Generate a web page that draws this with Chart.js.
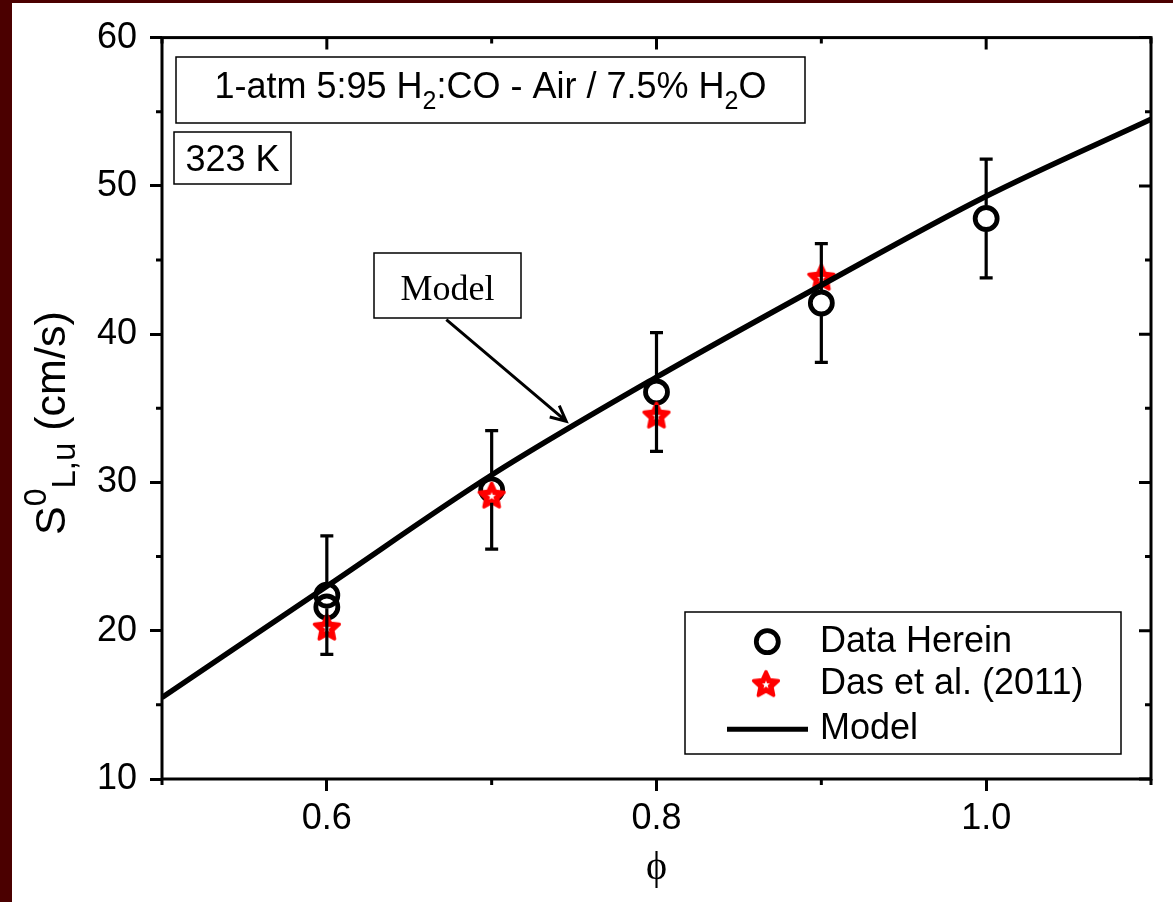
<html>
<head>
<script src="https://cdn.jsdelivr.net/npm/chart.js@4.4.0/dist/chart.umd.min.js"></script>
<style>
  body { margin: 0; background: #4b0000; }
  #wrap { position: absolute; left: 12px; top: 3px; width: 1161px; height: 899px; background: #fff; }
</style>
</head>
<body>
<div id="wrap"><canvas id="chart" width="1161" height="899"></canvas></div>
<script>
// data
const phiHerein   = [0.6, 0.6, 0.7, 0.8, 0.9, 1.0];
const speedHerein = [22.4, 21.6, 29.5, 36.1, 42.1, 47.8];
const errHerein   = [4, 0, 4, 4, 4, 4];

const phiDas   = [0.6, 0.7, 0.8, 0.9];
const speedDas = [20.2, 29.1, 34.5, 43.8];

const phiModel   = [0.5, 0.6, 0.7, 0.8, 0.9, 1.0, 1.1];
const speedModel = [15.5, 23.0, 30.5, 37.1, 43.3, 49.3, 54.5];

const xLabels = ['0.6', '0.8', '1.0'];
const yLabels = ['10', '20', '30', '40', '50', '60'];

const SANS = '"Liberation Sans", Arial, sans-serif';
const SERIF = '"Liberation Serif", "Times New Roman", serif';

function pts(xs, ys) { return xs.map((x, i) => ({x: x, y: ys[i]})); }

function starPath(g, cx, cy, R, r) {
  g.beginPath();
  for (let i = 0; i < 10; i++) {
    const rr = i % 2 ? r : R;
    const a = -Math.PI / 2 + i * Math.PI / 5;
    g.lineTo(cx + rr * Math.cos(a), cy + rr * Math.sin(a));
  }
  g.closePath();
}

// bold red star marker with a small white centre
function makeStar() {
  const c = document.createElement('canvas');
  c.width = 40; c.height = 40;
  const g = c.getContext('2d');
  starPath(g, 20, 20.5, 13, 6.2);
  g.fillStyle = '#ff0000';
  g.fill();
  g.lineJoin = 'round';
  g.lineWidth = 3.5;
  g.strokeStyle = '#ff0000';
  g.stroke();
  starPath(g, 20, 20.5, 4.2, 1.8);
  g.fillStyle = '#fff';
  g.fill();
  return c;
}
const starImg = makeStar();

function isMajorX(v) { return xLabels.includes(v.toFixed(1)); }
function isMajorY(v) { return yLabels.includes(String(Math.round(v))) && Math.abs(v - Math.round(v)) < 1e-6; }

// error bars of the circle series, leaving a gap at the symbol; drawn over the stars
const errorBars = {
  id: 'errorBars',
  afterDatasetDraw(chart, args) {
    if (args.index !== 2) return;
    const ctx = chart.ctx, xs = chart.scales.x, ys = chart.scales.y;
    const gap = 13;
    ctx.save();
    ctx.strokeStyle = '#000';
    ctx.lineWidth = 3.2;
    phiHerein.forEach((p, i) => {
      if (!errHerein[i]) return;
      const px = xs.getPixelForValue(p);
      const mid = ys.getPixelForValue(speedHerein[i]);
      const top = ys.getPixelForValue(speedHerein[i] + errHerein[i]);
      const bot = ys.getPixelForValue(speedHerein[i] - errHerein[i]);
      ctx.beginPath();
      ctx.moveTo(px, top); ctx.lineTo(px, mid - gap);
      ctx.moveTo(px, mid + gap); ctx.lineTo(px, bot);
      ctx.moveTo(px - 6.5, top); ctx.lineTo(px + 6.5, top);
      ctx.moveTo(px - 6.5, bot); ctx.lineTo(px + 6.5, bot);
      ctx.stroke();
    });
    ctx.restore();
  }
};

function drawRich(ctx, parts, x, y) {
  parts.forEach(p => {
    ctx.font = p.size + 'px ' + SANS;
    ctx.fillText(p.t, x, y + (p.dy || 0));
    x += ctx.measureText(p.t).width;
  });
  return x;
}
function richWidth(ctx, parts) {
  let w = 0;
  parts.forEach(p => { ctx.font = p.size + 'px ' + SANS; w += ctx.measureText(p.t).width; });
  return w;
}

const decor = {
  id: 'decor',
  afterDraw(chart) {
    const ctx = chart.ctx, a = chart.chartArea;
    const xs = chart.scales.x, ys = chart.scales.y;
    ctx.save();
    ctx.strokeStyle = '#000';
    ctx.fillStyle = '#000';

    // frame
    ctx.lineWidth = 3;
    ctx.strokeRect(a.left, a.top, a.right - a.left, a.bottom - a.top);

    // minor ticks outside, mirrored ticks inside on top/right
    ctx.beginPath();
    xs.ticks.forEach(t => {
      const px = xs.getPixelForValue(t.value);
      const len = isMajorX(t.value) ? 12 : 6;
      if (!isMajorX(t.value)) { ctx.moveTo(px, a.bottom); ctx.lineTo(px, a.bottom + 6); }
      ctx.moveTo(px, a.top); ctx.lineTo(px, a.top + len);
    });
    ys.ticks.forEach(t => {
      const py = ys.getPixelForValue(t.value);
      const len = isMajorY(t.value) ? 12 : 6;
      if (!isMajorY(t.value)) { ctx.moveTo(a.left, py); ctx.lineTo(a.left - 6, py); }
      ctx.moveTo(a.right, py); ctx.lineTo(a.right - len, py);
    });
    ctx.stroke();

    // title box
    ctx.lineWidth = 1.5;
    ctx.strokeRect(164, 54, 629, 66);
    const title = [
      {t: '1-atm 5:95 H', size: 36},
      {t: '2', size: 25, dy: 11},
      {t: ':CO - Air / 7.5% H', size: 36},
      {t: '2', size: 25, dy: 11},
      {t: 'O', size: 36}
    ];
    ctx.textBaseline = 'alphabetic';
    ctx.textAlign = 'left';
    const tw = richWidth(ctx, title);
    drawRich(ctx, title, 164 + 629 / 2 - tw / 2, 95);

    // temperature box
    ctx.strokeRect(162, 129, 117, 52);
    ctx.font = '36px ' + SANS;
    ctx.textAlign = 'center';
    ctx.fillText('323 K', 220.5, 168);

    // model annotation
    ctx.strokeRect(362, 250, 147, 65);
    ctx.font = '36px ' + SERIF;
    ctx.fillText('Model', 435.5, 297);
    const x0 = xs.getPixelForValue(0.6725), y0 = ys.getPixelForValue(40.98);
    const x1 = xs.getPixelForValue(0.7452), y1 = ys.getPixelForValue(34.13);
    const ang = Math.atan2(y1 - y0, x1 - x0);
    ctx.lineWidth = 3;
    ctx.beginPath();
    ctx.moveTo(x0, y0); ctx.lineTo(x1, y1);
    ctx.moveTo(x1 - 17 * Math.cos(ang - 0.45), y1 - 17 * Math.sin(ang - 0.45));
    ctx.lineTo(x1, y1);
    ctx.lineTo(x1 - 17 * Math.cos(ang + 0.45), y1 - 17 * Math.sin(ang + 0.45));
    ctx.stroke();

    // legend
    const ds = chart.data.datasets;
    ctx.lineWidth = 1.5;
    ctx.strokeRect(673, 609, 436, 142);
    ctx.textAlign = 'left';
    ctx.font = '36px ' + SANS;
    const rows = [638.7, 681.3, 726.3];
    ctx.beginPath();
    ctx.arc(755.3, rows[0], 11, 0, Math.PI * 2);
    ctx.lineWidth = 4.8; ctx.strokeStyle = '#000'; ctx.stroke();
    ctx.drawImage(starImg, 754 - 20, rows[1] - 20);
    ctx.beginPath();
    ctx.moveTo(715, rows[2]); ctx.lineTo(796, rows[2]);
    ctx.lineWidth = 5; ctx.stroke();
    ctx.fillStyle = '#000';
    ctx.textBaseline = 'middle';
    ctx.fillText(ds[1].label, 808, rows[0]);
    ctx.fillText(ds[2].label, 808, rows[1]);
    ctx.fillText(ds[0].label, 808, rows[2]);

    // y axis title with super/subscript
    ctx.translate(53, 532);
    ctx.rotate(-Math.PI / 2);
    ctx.textBaseline = 'alphabetic';
    drawRich(ctx, [
      {t: 'S', size: 43},
      {t: '0', size: 32, dy: -19},
      {t: 'L,u', size: 33, dy: 10},
      {t: ' (cm/s)', size: 43}
    ], 0, 0);
    ctx.restore();
  }
};

new Chart(document.getElementById('chart'), {
  type: 'scatter',
  data: {
    datasets: [
      {
        label: 'Model',
        type: 'line',
        data: pts(phiModel, speedModel),
        borderColor: '#000',
        borderWidth: 5.5,
        pointRadius: 0,
        cubicInterpolationMode: 'monotone',
        fill: false,
        order: 0
      },
      {
        label: 'Data Herein',
        data: pts(phiHerein, speedHerein),
        pointStyle: 'circle',
        pointRadius: 11,
        borderWidth: 4.8,
        borderColor: '#000',
        backgroundColor: 'rgba(0,0,0,0)',
        order: 3
      },
      {
        label: 'Das et al. (2011)',
        data: pts(phiDas, speedDas),
        pointStyle: starImg,
        pointRadius: 13,
        order: 2
      }
    ]
  },
  options: {
    responsive: false,
    animation: false,
    layout: { padding: { top: 32, right: 22, left: 0, bottom: 0 } },
    plugins: { legend: { display: false }, tooltip: { enabled: false } },
    scales: {
      x: {
        type: 'linear',
        min: 0.5, max: 1.1,
        afterFit(s) { s.height = 123; },
        border: { display: false },
        grid: {
          drawOnChartArea: false, drawTicks: true, tickLength: 12, tickWidth: 3,
          tickColor: c => isMajorX(c.tick.value) ? '#000' : 'rgba(0,0,0,0)'
        },
        ticks: {
          stepSize: 0.1, autoSkip: false, maxRotation: 0, padding: 6,
          color: '#000', font: { family: SANS, size: 36 },
          callback: v => isMajorX(v) ? v.toFixed(1) : ''
        },
        title: {
          display: true, text: '\u03d5', color: '#000',
          font: { family: SERIF, size: 40 }, padding: { top: 0, bottom: 10 }
        }
      },
      y: {
        min: 10, max: 60,
        afterFit(s) { s.width = 150; },
        border: { display: false },
        grid: {
          drawOnChartArea: false, drawTicks: true, tickLength: 12, tickWidth: 3,
          tickColor: c => isMajorY(c.tick.value) ? '#000' : 'rgba(0,0,0,0)'
        },
        ticks: {
          stepSize: 5, autoSkip: false, padding: 13,
          color: '#000', font: { family: SANS, size: 36 },
          callback: v => isMajorY(v) ? String(v) : ''
        }
      }
    }
  },
  plugins: [errorBars, decor]
});
</script>
</body>
</html>
